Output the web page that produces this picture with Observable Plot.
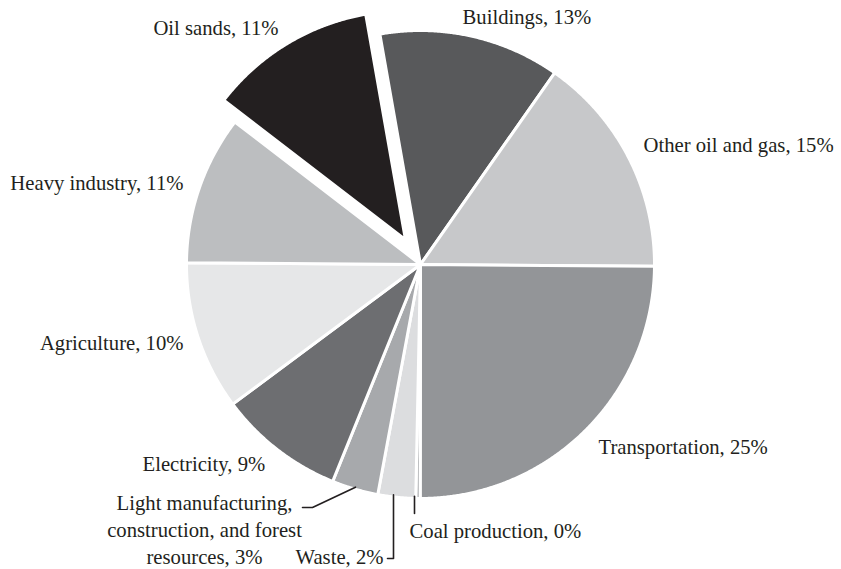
<!DOCTYPE html>
<html><head><meta charset="utf-8">
<script src="https://cdn.jsdelivr.net/npm/d3@7"></script>
<script src="https://cdn.jsdelivr.net/npm/@observablehq/plot@0.6"></script>
<style>body{margin:0;background:#fff}</style>
</head><body><div id="chart"></div>
<script>
// ---- data ----
const sectors = ["Buildings", "Other oil and gas", "Transportation", "Coal production", "Waste",
  "Light manufacturing, construction, and forest resources", "Electricity", "Agriculture", "Heavy industry", "Oil sands"];
const shares = [12.5, 15.4, 24.9, 0.3, 2.6, 3.2, 8.7, 10.3, 10.3, 11.8];
const labels = ["Buildings, 13%", "Other oil and gas, 15%", "Transportation, 25%", "Coal production, 0%", "Waste, 2%",
  "Light manufacturing,\nconstruction, and forest\nresources, 3%", "Electricity, 9%", "Agriculture, 10%", "Heavy industry, 11%", "Oil sands, 11%"];
const fills = ["#58595b", "#c7c8ca", "#939598", "#a7a9ac", "#dcdddf", "#a7a9ac", "#6d6e71", "#e6e7e8", "#bcbec0", "#231f20"];
const explodedSectors = ["Oil sands"];

// ---- layout (pixels) ----
const W = 841, H = 569, CX = 420, CY = 264, R = 234, R_EX = 229, EXPLODE = 29;
const START = -10 * Math.PI / 180;
// label anchor points in page pixels (baseline of last line)
const labelLayout = [
  {x: 462, y: 23, anchor: "start"},
  {x: 643, y: 151, anchor: "start"},
  {x: 598, y: 453, anchor: "start"},
  {x: 409, y: 537, anchor: "start"},
  {x: 383, y: 563, anchor: "end"},
  {x: 204, y: 563, anchor: "middle"},
  {x: 142, y: 470, anchor: "start"},
  {x: 183, y: 349, anchor: "end"},
  {x: 183, y: 189, anchor: "end"},
  {x: 278, y: 34, anchor: "end"}
];
// leaders: optional start x on the rim (page px), then follow-up points ("v" = keep x of previous point)
const leaderLayout = {
  "Coal production": {rimX: 414, pts: [{x: "v", y: 513}]},
  "Waste": {rimX: 393, pts: [{x: "v", y: 558}, {x: -6, y: 558, rel: true}]},
  "Light manufacturing, construction, and forest resources": {pts: [{x: 312, y: 507}, {x: 302, y: 507}]}
};

const toX = px => px - CX, toY = py => CY - py;

const rows = sectors.map((s, i) => ({sector: s, share: shares[i], label: labels[i]}));
const arcs = d3.pie().sort(null).value(d => d.share).startAngle(START).endAngle(START + 2 * Math.PI)(rows);

const slicePts = [];
const leaderPts = [];
arcs.forEach((a) => {
  const s = a.data.sector;
  const ex = explodedSectors.includes(s);
  const mid = (a.startAngle + a.endAngle) / 2;
  const ox = ex ? EXPLODE * Math.sin(mid) : 0, oy = ex ? EXPLODE * Math.cos(mid) : 0;
  const r = ex ? R_EX : R;
  slicePts.push({sector: s, x: ox, y: oy});
  const n = Math.max(2, Math.ceil((a.endAngle - a.startAngle) / 0.005));
  for (let k = 0; k <= n; k++) {
    const t = a.startAngle + (a.endAngle - a.startAngle) * k / n;
    slicePts.push({sector: s, x: ox + r * Math.sin(t), y: oy + r * Math.cos(t)});
  }
  slicePts.push({sector: s, x: ox, y: oy});
  const lead = leaderLayout[s];
  if (lead) {
    let ex0, ey0;
    if (lead.rimX !== undefined) {
      ex0 = toX(lead.rimX);
      const rr = r - 2;
      ey0 = (Math.cos(mid) < 0 ? -1 : 1) * Math.sqrt(Math.max(0, rr * rr - ex0 * ex0));
    } else {
      ex0 = ox + (r - 2) * Math.sin(mid); ey0 = oy + (r - 2) * Math.cos(mid);
    }
    leaderPts.push({sector: s, x: ex0, y: ey0});
    let px = ex0;
    for (const p of lead.pts) {
      let x;
      if (p.x === "v") x = px;
      else if (p.rel) x = px + p.x;
      else x = toX(p.x);
      leaderPts.push({sector: s, x, y: toY(p.y)});
      px = x;
    }
  }
});

const labelRows = rows.map((d, i) => ({label: d.label, x: toX(labelLayout[i].x), y: toY(labelLayout[i].y), anchor: labelLayout[i].anchor}));

const textOpts = a => ({x: "x", y: "y", text: "label", textAnchor: a, lineAnchor: "bottom", lineHeight: 1.3,
  fontSize: 20.7, fill: "#231f20"});

const chart = Plot.plot({
  width: W, height: H, margin: 0,
  x: {domain: [toX(0), toX(W)], axis: null},
  y: {domain: [toY(H), toY(0)], axis: null},
  color: {type: "ordinal", domain: sectors, range: fills},
  style: {fontFamily: "'Liberation Serif', 'Times New Roman', serif", background: "#fff"},
  marks: [
    Plot.line(slicePts, {x: "x", y: "y", z: "sector", fill: "sector", stroke: "#fff", strokeWidth: 3, strokeLinejoin: "round", curve: "linear"}),
    Plot.line(leaderPts, {x: "x", y: "y", z: "sector", stroke: "#231f20", strokeWidth: 1.6}),
    Plot.text(labelRows.filter(d => d.anchor === "start"), textOpts("start")),
    Plot.text(labelRows.filter(d => d.anchor === "end"), textOpts("end")),
    Plot.text(labelRows.filter(d => d.anchor === "middle"), textOpts("middle"))
  ]
});
document.getElementById("chart").appendChild(chart);
</script>
</body></html>
